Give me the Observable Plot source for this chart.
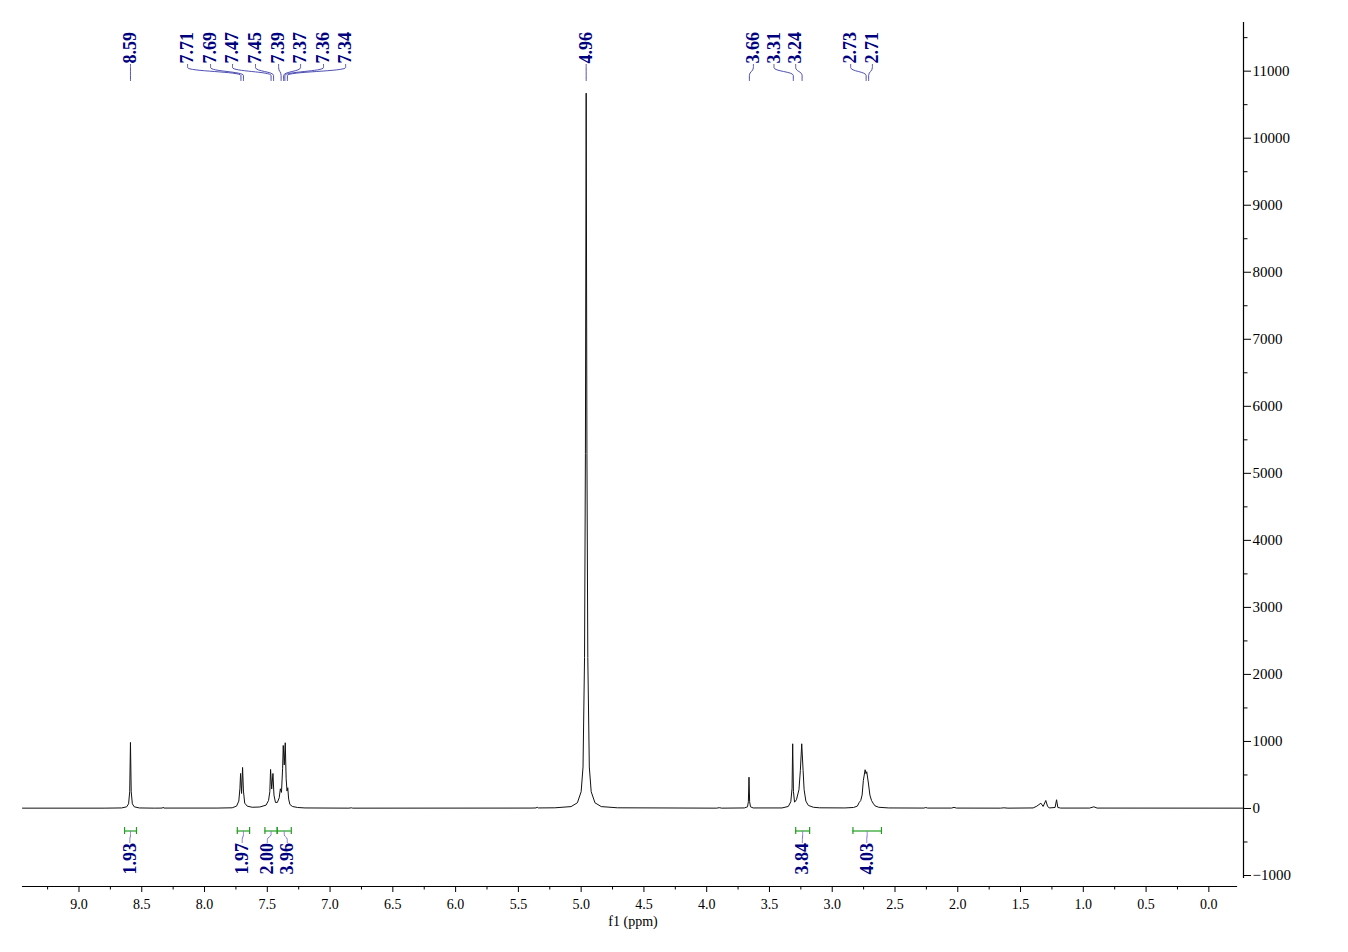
<!DOCTYPE html>
<html><head><meta charset="utf-8">
<script src="https://cdn.jsdelivr.net/npm/d3@7"></script>
<script src="https://cdn.jsdelivr.net/npm/@observablehq/plot@0.6"></script>
<style>body{margin:0;background:#fff;} svg{display:block}</style>
</head><body><div id="chart"></div>
<script>
// ---- data ----
// spectrum points: [ppm, intensity]
const spectrum = [
 [9.45,5],[8.80,5],
 [8.66,8],[8.62,25],[8.605,70],[8.596,250],[8.59,985],[8.584,250],[8.575,70],[8.56,25],[8.52,8],
 [8.40,5],[8.335,6],[8.33,20],[8.325,6],
 [7.90,6],
 [7.78,10],[7.745,35],[7.727,110],[7.718,300],[7.713,522],[7.705,224],[7.697,612],[7.690,260],[7.68,80],[7.66,35],[7.62,18],[7.56,22],
 [7.51,50],[7.49,120],[7.48,250],[7.474,582],[7.465,290],[7.455,522],[7.447,200],[7.435,90],[7.42,90],
 [7.405,160],[7.396,294],[7.387,240],[7.378,600],[7.373,940],[7.365,650],[7.357,980],[7.350,450],[7.343,260],[7.337,309],[7.330,140],[7.32,60],[7.30,30],[7.26,15],[7.20,8],
 [6.85,5],[6.83,10],[6.82,5],
 [5.40,6],[5.36,8],[5.35,18],[5.34,8],
 [5.21,10],[5.08,28],[5.03,85],[5.00,250],[4.985,620],[4.973,2250],[4.966,5300],[4.96,10672],[4.954,5300],[4.947,2250],[4.935,620],[4.92,250],[4.89,85],[4.84,28],[4.71,10],
 [3.92,5],[3.90,12],[3.88,5],
 [3.70,8],[3.675,25],[3.668,100],[3.663,467],[3.658,100],[3.651,25],[3.63,8],
 [3.40,8],[3.35,30],[3.33,100],[3.320,300],[3.315,965],[3.309,250],[3.30,94],[3.285,130],[3.265,280],[3.254,567],[3.243,965],[3.232,567],[3.224,280],[3.21,110],[3.19,45],[3.15,18],[3.10,10],
 [2.90,8],[2.83,15],[2.80,35],[2.785,90],[2.773,119],[2.762,200],[2.752,420],[2.738,578],[2.731,520],[2.725,548],[2.712,380],[2.70,200],[2.687,119],[2.675,80],[2.66,40],[2.63,18],[2.55,8],
 [2.27,6],[2.255,14],[2.24,6],
 [2.05,6],[2.03,16],[2.01,6],
 [1.66,5],[1.633,10],[1.60,5],
 [1.40,8],[1.37,35],[1.338,79],[1.320,30],[1.299,119],[1.285,35],[1.272,8],[1.225,15],[1.213,130],[1.203,15],[1.18,6],
 [0.95,6],[0.916,25],[0.89,6],
 [-0.276,5]
];
const peakValues = [8.59, 7.71, 7.69, 7.47, 7.45, 7.39, 7.37, 7.36, 7.34, 4.96, 3.66, 3.31, 3.24, 2.73, 2.71];
const peakText = ["8.59","7.71","7.69","7.47","7.45","7.39","7.37","7.36","7.34","4.96","3.66","3.31","3.24","2.73","2.71"];
const integralFrom = [8.637, 7.739, 7.519, 7.421, 3.291, 2.835];
const integralTo = [8.542, 7.641, 7.421, 7.309, 3.180, 2.608];
const integralText = ["1.93", "1.97", "2.00", "3.96", "3.84", "4.03"];
const xTickValues = [9.0, 8.5, 8.0, 7.5, 7.0, 6.5, 6.0, 5.5, 5.0, 4.5, 4.0, 3.5, 3.0, 2.5, 2.0, 1.5, 1.0, 0.5, 0.0];
const xMinorValues = [9.25, 8.75, 8.25, 7.75, 7.25, 6.75, 6.25, 5.75, 5.25, 4.75, 4.25, 3.75, 3.25, 2.75, 2.25, 1.75, 1.25, 0.75, 0.25];
const yTickValues = [-1000, 0, 1000, 2000, 3000, 4000, 5000, 6000, 7000, 8000, 9000, 10000, 11000];
const yMinorValues = [-500, 500, 1500, 2500, 3500, 4500, 5500, 6500, 7500, 8500, 9500, 10500, 11500];

// ---- layout ----
const W = 1348, H = 952;
const mL = 22, mR = 105, mT = 22, mB = 66;
const xDomain = [9.45, -0.276];
const yDomain = [-1164, 11726];
const yPx = d3.scaleLinear().domain(yDomain).range([H - mB, mT]);
const labelSlots = [8.59, 8.135, 7.952, 7.777, 7.594, 7.410, 7.235, 7.052, 6.876, 4.96, 3.628, 3.464, 3.291, 2.853, 2.680];
const integralLabelX = [8.595, 7.700, 7.500, 7.341, 3.238, 2.725];

const navy = "#00007f", connBlue = "#3b3baa", green = "#1f9e1f", lav = "#7a7acc";
const serif = "'Liberation Serif', 'DejaVu Serif', serif";

const specData = spectrum.map(([ppm, v]) => ({ppm, v}));
const conn = peakValues.flatMap((p, i) => [
  {x: labelSlots[i], y: yPx.invert(64), k: i},
  {x: labelSlots[i], y: yPx.invert(67), k: i},
  {x: p, y: yPx.invert(75), k: i},
  {x: p, y: yPx.invert(80), k: i}
]);
const peakLab = peakText.map((t, i) => ({x: labelSlots[i], t}));
const integrals = integralText.map((t, i) => ({a: integralFrom[i], b: integralTo[i], c: (integralFrom[i] + integralTo[i]) / 2, lx: integralLabelX[i], t}));
const caps = integrals.flatMap(d => [{x: d.a}, {x: d.b}]);
const intConn = integrals.flatMap((d, i) => [
  {x: d.c, y: yPx.invert(831), k: i},
  {x: d.c, y: yPx.invert(834), k: i},
  {x: d.lx, y: yPx.invert(839), k: i},
  {x: d.lx, y: yPx.invert(842), k: i}
]);
const fmtY = d => d < 0 ? "\u2212" + Math.abs(d) : String(d);

const chart = Plot.plot({
  width: W, height: H,
  marginLeft: mL, marginRight: mR, marginTop: mT, marginBottom: mB,
  x: {domain: xDomain},
  y: {domain: yDomain},
  style: {fontFamily: serif, fontSize: "15px", color: "#000", background: "#fff"},
  marks: [
    // axes
    Plot.axisX(xTickValues, {tickSize: 6, tickPadding: 7, tickFormat: d => d.toFixed(1), fontSize: 14, letterSpacing: "2px", label: null}),
    Plot.axisX(xMinorValues, {tickSize: 3.5, text: null, label: null}),
    Plot.axisY(yTickValues, {anchor: "right", tickSize: 7, tickPadding: 2, tickFormat: fmtY, fontSize: 15, label: null}),
    Plot.axisY(yMinorValues, {anchor: "right", tickSize: 3.5, text: null, label: null}),
    Plot.ruleY([yDomain[0]], {x1: xDomain[0], x2: -0.229, stroke: "#000", strokeWidth: 1.2}),
    Plot.ruleX([xDomain[1]], {y1: yPx.invert(878), y2: yDomain[1], stroke: "#000", strokeWidth: 1.2}),
    Plot.text(["f1 (ppm)"], {frameAnchor: "bottom", dy: 39, fontSize: 14, letterSpacing: "1px", fill: "#000"}),
    // spectrum
    Plot.line(specData, {x: "ppm", y: "v", stroke: "#111", strokeWidth: 1}),
    // peak labels
    Plot.line(conn, {x: "x", y: "y", z: "k", curve: "bump-y", stroke: connBlue, strokeWidth: 0.9}),
    Plot.text(peakLab, {x: "x", y: yPx.invert(63), text: "t", rotate: -90, textAnchor: "start", lineAnchor: "middle", fontSize: 18, fontWeight: "bold", fill: navy, fontFamily: serif}),
    // integrals
    Plot.ruleY(integrals, {x1: "a", x2: "b", y: yPx.invert(830.5), stroke: green, strokeWidth: 1.2}),
    Plot.ruleX(caps, {x: "x", y1: yPx.invert(827), y2: yPx.invert(834), stroke: green, strokeWidth: 1.2}),
    Plot.line(intConn, {x: "x", y: "y", z: "k", curve: "bump-y", stroke: lav, strokeWidth: 1}),
    Plot.text(integrals, {x: "lx", y: yPx.invert(874), text: "t", rotate: -90, textAnchor: "start", lineAnchor: "middle", fontSize: 18, fontWeight: "bold", fill: navy, fontFamily: serif})
  ]
});
document.getElementById("chart").appendChild(chart);
</script>
</body></html>
